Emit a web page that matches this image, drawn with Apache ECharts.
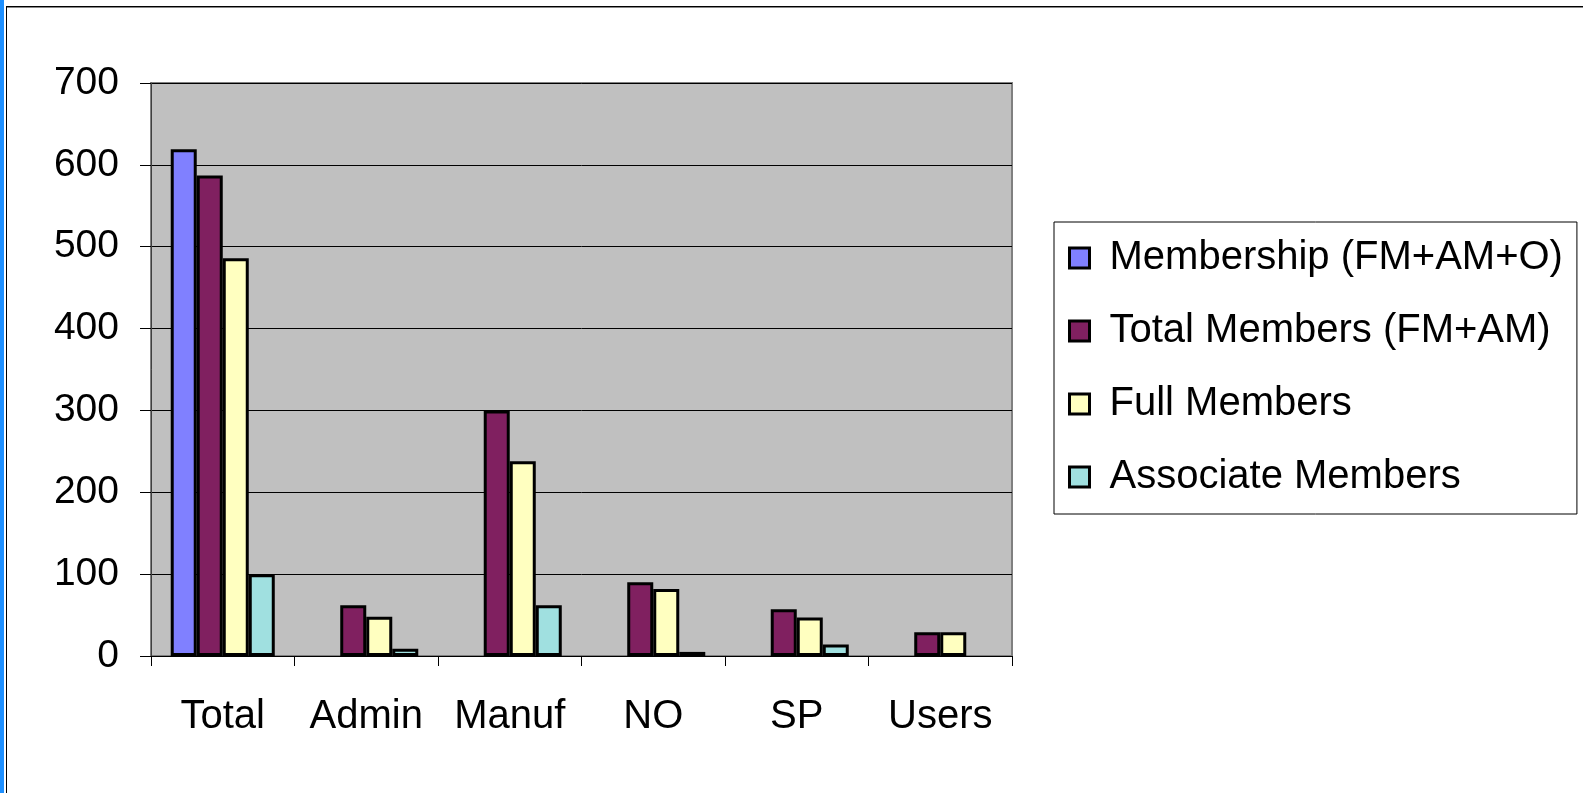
<!DOCTYPE html>
<html>
<head>
<meta charset="utf-8">
<script src="https://cdn.jsdelivr.net/npm/echarts@6/dist/echarts.min.js"></script>
<style>
  html, body { margin: 0; padding: 0; background: #fff; }
  #chart { width: 1583px; height: 793px; }
</style>
</head>
<body>
<div id="chart"></div>
<script>
const categories = ['Total', 'Admin', 'Manuf', 'NO', 'SP', 'Users'];
const seriesNames = ['Membership (FM+AM+O)', 'Total Members (FM+AM)', 'Full Members', 'Associate Members'];
const membership = [619, null, null, null, null, null];
const totalMembers = [587, 62, 300, 90, 57, 29];
const fullMembers = [486, 48, 238, 82, 47, 29];
const associateMembers = [100, 9, 62, 5, 14, null];
const yTicks = [0, 100, 200, 300, 400, 500, 600, 700];

const colors = ['#8080FF', '#802060', '#FFFFC0', '#A0E0E0'];
const seriesData = [membership, totalMembers, fullMembers, associateMembers];
const FONT = "'Liberation Sans', Arial, sans-serif";

const chart = echarts.init(document.getElementById('chart'), null, { renderer: 'canvas' });
chart.setOption({
  animation: false,
  backgroundColor: '#ffffff',
  color: colors,
  graphic: [
    { type: 'rect', shape: { x: 0, y: 0, width: 4, height: 793 }, style: { fill: '#1E90FF' }, silent: true },
    { type: 'rect', shape: { x: 6, y: 6, width: 1577, height: 1 }, style: { fill: '#000' }, silent: true },
    { type: 'rect', shape: { x: 6, y: 7, width: 1583, height: 1 }, style: { fill: '#888' }, silent: true },
    { type: 'rect', shape: { x: 6, y: 6, width: 1, height: 787 }, style: { fill: '#000' }, silent: true }
  ],
  grid: {
    left: 151, top: 83, right: 571, bottom: 137,
    show: true, backgroundColor: '#C0C0C0', borderColor: '#808080', borderWidth: 2
  },
  legend: {
    orient: 'vertical',
    left: 1054, top: 222,
    padding: [16, 14, 17, 14],
    itemGap: 33,
    itemWidth: 20, itemHeight: 20,
    icon: 'rect',
    itemStyle: { borderColor: '#000', borderWidth: 3 },
    backgroundColor: '#fff',
    borderColor: '#000', borderWidth: 1,
    textStyle: { fontFamily: FONT, fontSize: 40, color: '#000', lineHeight: 40, padding: [0, 0, 0, 15] },
    data: seriesNames
  },
  xAxis: {
    type: 'category',
    data: categories,
    axisLine: { lineStyle: { color: '#000', width: 1 } },
    axisTick: { show: true, interval: 0, length: 10, lineStyle: { color: '#000' } },
    axisLabel: { fontFamily: FONT, fontSize: 40, color: '#000', margin: 41, interval: 0 },
    splitLine: { show: false }
  },
  yAxis: {
    type: 'value',
    min: 0, max: 700, interval: 100,
    axisLine: { show: true, lineStyle: { color: '#404040', width: 1 } },
    axisTick: { show: true, length: 11, lineStyle: { color: '#000' } },
    axisLabel: { fontFamily: FONT, fontSize: 39, color: '#000', margin: 32,
      formatter: v => (yTicks.indexOf(v) >= 0 ? String(v) : '') },
    splitLine: { show: true, lineStyle: { color: '#000', width: 1 } }
  },
  series: seriesNames.map((name, i) => ({
    name: name,
    type: 'bar',
    data: seriesData[i],
    barGap: '0%',
    barCategoryGap: '27.5%',
    itemStyle: { color: colors[i], borderColor: '#000', borderWidth: 3 }
  }))
});
</script>
</body>
</html>
